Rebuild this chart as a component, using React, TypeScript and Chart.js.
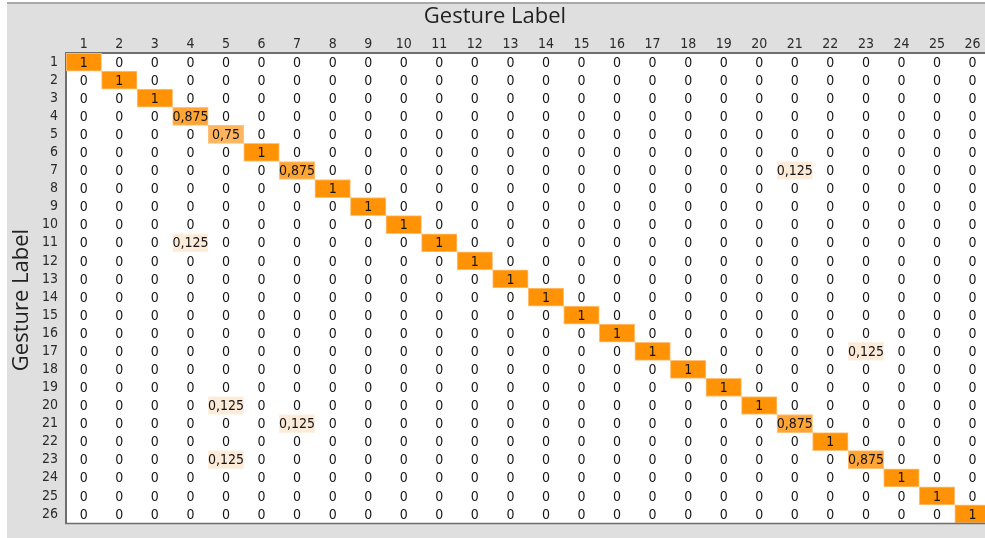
import React, { useEffect, useRef } from "react";
import { Chart, registerables } from "chart.js";

Chart.register(...registerables);

// Gesture classes (rows = actual, columns = predicted)
const gestures = [
  "1", "2", "3", "4", "5", "6", "7", "8", "9", "10", "11", "12", "13",
  "14", "15", "16", "17", "18", "19", "20", "21", "22", "23", "24", "25", "26",
];

// Recognition rate on the diagonal, one per gesture
const diagonalRates = [
  1, 1, 1, 0.875, 0.75, 1, 0.875, 1, 1, 1, 1, 1, 1,
  1, 1, 1, 1, 1, 1, 1, 0.875, 1, 0.875, 1, 1, 1,
];

// Misclassifications: row gesture -> column gesture
const confusedRows = [7, 11, 17, 20, 21, 23];
const confusedCols = [21, 4, 23, 5, 7, 5];
const confusedRates = [0.125, 0.125, 0.125, 0.125, 0.125, 0.125];

const TITLE = "Gesture Label";
const NUM_FONT = '"DejaVu Sans Condensed", "Liberation Sans Narrow", "Liberation Sans", sans-serif';
const TITLE_FONT = '"Open Sans", "Noto Sans", sans-serif';
const PANEL_GRAY = "#dfdfdf";
const FRAME = "#6e6e6e";

function buildMatrix(): number[][] {
  const m = gestures.map(() => gestures.map(() => 0));
  diagonalRates.forEach((v, i) => {
    m[i][i] = v;
  });
  confusedRows.forEach((r, k) => {
    m[r - 1][confusedCols[k] - 1] = confusedRates[k];
  });
  return m;
}

function fillFor(v: number): string {
  if (v >= 1) return "#ff9305";
  if (v >= 0.875) return "#ffa536";
  if (v >= 0.75) return "#ffb45e";
  return "#fdebd9";
}

function edgeFor(v: number): string {
  if (v >= 0.5) return "#ffc27a";
  return "#fdf1e4";
}

function formatRate(v: number): string {
  return String(v).replace(".", ",");
}

export default function App() {
  const canvasRef = useRef<HTMLCanvasElement | null>(null);

  useEffect(() => {
    const canvas = canvasRef.current;
    if (!canvas) return;
    const matrix = buildMatrix();

    const cells: { x: [number, number]; y: string; v: number }[] = [];
    matrix.forEach((row, r) =>
      row.forEach((v, c) => {
        if (v > 0) cells.push({ x: [c + 0.5, c + 1.5], y: gestures[r], v });
      })
    );

    const panelPlugin = {
      id: "panel",
      beforeDraw(chart: any) {
        const { ctx, chartArea, width, height } = chart;
        ctx.save();
        ctx.fillStyle = PANEL_GRAY;
        ctx.fillRect(7, 3, width - 7, height - 3);
        ctx.fillStyle = "#a9a9a9";
        ctx.fillRect(7, 2, width - 7, 2);
        ctx.fillStyle = "#ffffff";
        ctx.fillRect(
          chartArea.left,
          chartArea.top,
          chartArea.right - chartArea.left,
          chartArea.bottom - chartArea.top
        );
        ctx.restore();
      },
    };

    const valuesPlugin = {
      id: "cellValues",
      afterDatasetsDraw(chart: any) {
        const { ctx, chartArea } = chart;
        const xs = chart.scales.x;
        const ys = chart.scales.y;
        ctx.save();
        ctx.beginPath();
        ctx.rect(chartArea.left, chartArea.top, chartArea.right - chartArea.left, chartArea.bottom - chartArea.top);
        ctx.clip();
        ctx.font = `14px ${NUM_FONT}`;
        ctx.fillStyle = "#141414";
        ctx.textAlign = "center";
        ctx.textBaseline = "middle";
        matrix.forEach((row, r) =>
          row.forEach((v, c) => {
            const px = xs.getPixelForValue(c + 1);
            const py = ys.getPixelForValue(r) + 1;
            ctx.fillText(formatRate(v), px, py);
          })
        );
        ctx.restore();
      },
      afterDraw(chart: any) {
        const { ctx, chartArea } = chart;
        ctx.save();
        // bottom frame line of the matrix
        ctx.strokeStyle = FRAME;
        ctx.lineWidth = 1.5;
        ctx.beginPath();
        ctx.moveTo(chartArea.left - 1, chartArea.bottom + 0.5);
        ctx.lineTo(chartArea.right, chartArea.bottom + 0.5);
        ctx.stroke();
        // axis titles
        ctx.fillStyle = "#222222";
        ctx.font = `22px ${TITLE_FONT}`;
        ctx.textAlign = "center";
        ctx.textBaseline = "middle";
        ctx.fillText(TITLE, 495, 17);
        ctx.translate(22, 300);
        ctx.rotate(-Math.PI / 2);
        ctx.fillText(TITLE, 0, 0);
        ctx.restore();
      },
    };

    const chart = new Chart(canvas, {
      type: "bar",
      data: {
        labels: gestures,
        datasets: [
          {
            data: cells as any,
            backgroundColor: cells.map((d) => fillFor(d.v)),
            borderColor: cells.map((d) => edgeFor(d.v)),
            borderWidth: 1,
            borderSkipped: false,
            categoryPercentage: 1,
            barPercentage: 1,
          },
        ],
      },
      options: {
        indexAxis: "y",
        responsive: false,
        animation: false,
        layout: { padding: { left: 7, top: 3, right: 0, bottom: 6 } },
        plugins: {
          legend: { display: false },
          tooltip: { enabled: false },
        },
        scales: {
          x: {
            type: "linear",
            position: "top",
            min: 0.5,
            max: 26.35,
            grid: { display: false, drawTicks: false },
            border: { display: true, color: FRAME, width: 2 },
            afterBuildTicks: (scale: any) => {
              scale.ticks = gestures.map((g) => ({ value: Number(g) }));
            },
            afterFit: (scale: any) => {
              scale.height = 50;
            },
            ticks: {
              autoSkip: false,
              maxRotation: 0,
              padding: 0,
              color: "#2b2b2b",
              font: { family: NUM_FONT, size: 14, lineHeight: 1.2 },
              callback: (v: any) => String(v),
            },
          },
          y: {
            type: "category",
            position: "left",
            offset: true,
            grid: { display: false, drawTicks: false },
            border: { display: true, color: FRAME, width: 2 },
            afterFit: (scale: any) => {
              scale.width = 59;
            },
            ticks: {
              autoSkip: false,
              padding: 8,
              color: "#2b2b2b",
              font: { family: NUM_FONT, size: 14, lineHeight: 1 },
            },
          },
        },
      },
      plugins: [panelPlugin, valuesPlugin],
    });

    return () => chart.destroy();
  }, []);

  return (
    <div style={{ position: "absolute", left: 0, top: 0, width: 985, height: 538, background: "#ffffff" }}>
      <canvas ref={canvasRef} width={985} height={538} style={{ display: "block" }} />
    </div>
  );
}
